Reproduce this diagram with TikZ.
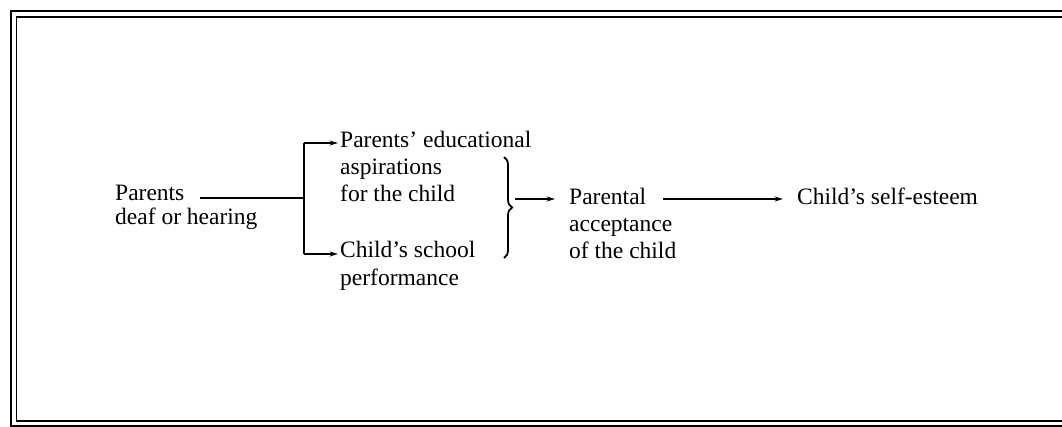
\documentclass[tikz,border=0pt]{standalone}
\usepackage{fontspec}
\setmainfont{Liberation Serif}
\usetikzlibrary{arrows.meta,decorations.pathreplacing}
\newcommand\mystack[1]{\begin{tabular}[t]{@{}l@{}}#1\end{tabular}}
\begin{document}
\begin{tikzpicture}[x=1pt,y=-1pt,
  lbl/.style={inner sep=0pt, anchor=base west},
  conn/.style={line width=1.2pt},
  arr/.style={conn, -{Stealth[length=8.5pt,width=5pt]}},
  bracestyle/.style={line width=1.8pt, decorate, decoration={brace, amplitude=8pt}},
  frameout/.style={line width=2pt},
  framein/.style={line width=1.5pt}]
\useasboundingbox (0,0) rectangle (1062,427);
% frame
\draw[frameout] (1062,11) -- (11,11) -- (11,426) -- (1062,426);
\draw[framein] (1062,17) -- (16.5,17) -- (16.5,421) -- (1062,421);
% nodes
\node[lbl, font=\fontsize{23.5}{23}\selectfont] (pdh) at (115,201) {\mystack{Parents\\deaf or hearing}};
\node[lbl, font=\fontsize{23.5}{27}\selectfont] (asp) at (340,148) {\mystack{Parents' educational\\aspirations\\for the child}};
\node[lbl, font=\fontsize{23.5}{28}\selectfont] (csp) at (340,258) {\mystack{Child's school\\performance}};
\node[lbl, font=\fontsize{23.5}{27}\selectfont] (acc) at (569,205) {\mystack{Parental\\acceptance\\of the child}};
\node[lbl, font=\fontsize{23.5}{27}\selectfont] (cse) at (797,205) {Child's self-esteem};
% connectors
\coordinate (ps) at (200,198);
\coordinate (j) at (304,198);
\coordinate (jt) at (304,143);
\coordinate (jb) at (304,254);
\coordinate (bt) at (515,199);
\coordinate (as) at (663,199);
\draw[conn] (ps) -- (j);
\draw[conn] (jt) -- (jb);
\draw[arr, shorten >=2pt] (jt) -- (jt -| asp.west);
\draw[arr, shorten >=2pt] (jb) -- (jb -| csp.west);
\draw[bracestyle] (504,157) -- (504,258);
\draw[arr, shorten >=14pt] (bt) -- (bt -| acc.west);
\draw[arr, shorten >=14pt] (as) -- (as -| cse.west);
\end{tikzpicture}
\end{document}
